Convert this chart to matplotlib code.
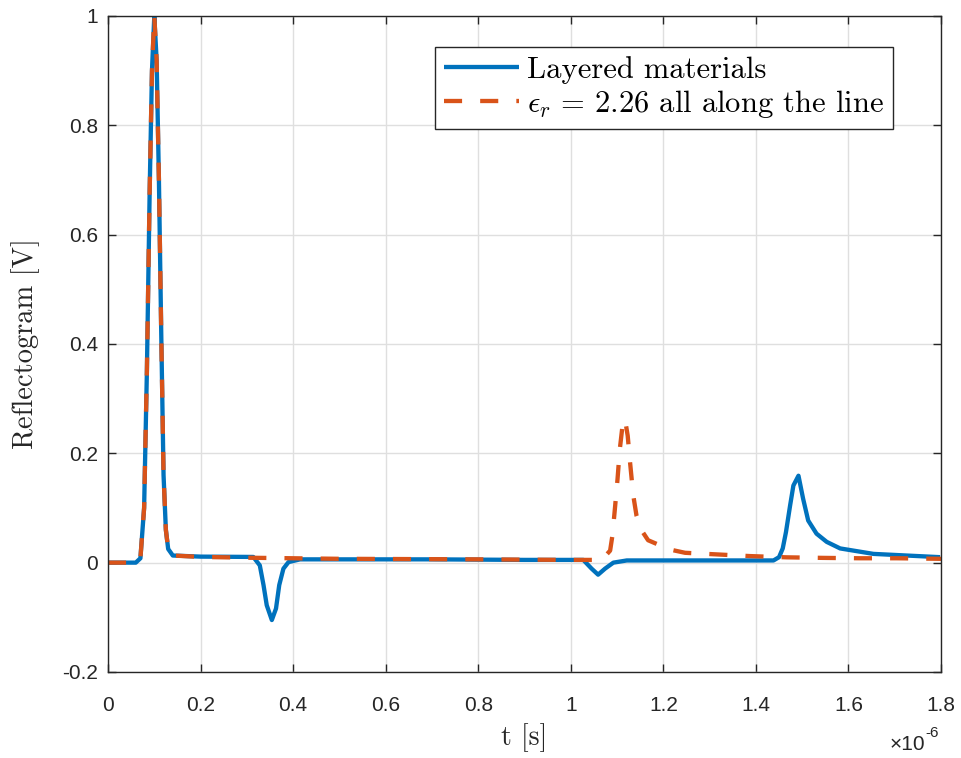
import numpy as np
import matplotlib.pyplot as plt

# time axis in units of 1e-6 s, values in V
t_layer = [0.0, 0.06, 0.07, 0.078, 0.084, 0.09, 0.095, 0.1, 0.105, 0.11, 0.115,
           0.12, 0.125, 0.13, 0.14, 0.2, 0.3, 0.314, 0.328, 0.336, 0.343, 0.354,
           0.363, 0.370, 0.379, 0.390, 0.415, 0.5, 0.7, 0.9, 1.0, 1.027, 1.045,
           1.059, 1.074, 1.092, 1.121, 1.2, 1.3, 1.438, 1.450, 1.458, 1.465, 1.474,
           1.481, 1.492, 1.502, 1.513, 1.531, 1.553, 1.582, 1.654, 1.726, 1.798]
v_layer = [0.0, 0.0, 0.008, 0.1, 0.35, 0.68, 0.9, 1.0, 0.92, 0.7, 0.42,
           0.16, 0.06, 0.025, 0.013, 0.011, 0.0105, 0.0104, -0.005, -0.041, -0.078, -0.105,
           -0.084, -0.041, -0.011, 0.001, 0.006, 0.006, 0.006, 0.005, 0.005, 0.005, -0.011,
           -0.022, -0.011, 0.0, 0.004, 0.004, 0.004, 0.004, 0.010, 0.026, 0.056, 0.105,
           0.141, 0.159, 0.117, 0.077, 0.053, 0.038, 0.026, 0.016, 0.013, 0.010]

t_uniform = [0.0, 0.06, 0.07, 0.078, 0.084, 0.09, 0.095, 0.1, 0.105, 0.11, 0.115,
             0.12, 0.125, 0.13, 0.14, 0.2, 0.3, 0.5, 0.8, 1.0, 1.067, 1.085, 1.090,
             1.096, 1.101, 1.106, 1.111, 1.117, 1.123, 1.128, 1.135, 1.142, 1.153,
             1.167, 1.214, 1.247, 1.387, 1.467, 1.545, 1.625, 1.705, 1.8]
v_uniform = [0.0, 0.0, 0.008, 0.1, 0.35, 0.68, 0.9, 1.0, 0.92, 0.7, 0.42,
             0.16, 0.06, 0.025, 0.013, 0.0105, 0.009, 0.007, 0.006, 0.005, 0.005, 0.022, 0.05,
             0.105, 0.153, 0.208, 0.245, 0.263, 0.232, 0.184, 0.123, 0.086, 0.059,
             0.041, 0.024, 0.018, 0.012, 0.0097, 0.0087, 0.008, 0.008, 0.007]

x_ticks = [0, 0.2, 0.4, 0.6, 0.8, 1.0, 1.2, 1.4, 1.6, 1.8]
x_labels = ['0', '0.2', '0.4', '0.6', '0.8', '1', '1.2', '1.4', '1.6', '1.8']
y_ticks = [-0.2, 0, 0.2, 0.4, 0.6, 0.8, 1.0]
y_labels = ['-0.2', '0', '0.2', '0.4', '0.6', '0.8', '1']

plt.rcParams['mathtext.fontset'] = 'cm'
plt.rcParams['axes.unicode_minus'] = False

fig = plt.figure(figsize=(9.61, 7.58), dpi=100)
ax = fig.add_axes([0.1124, 0.1135, 0.8668, 0.8654])

ax.plot(t_layer, v_layer, color='#0072BD', lw=3.1, label='Layered materials',
        solid_joinstyle='round', solid_capstyle='butt')
ax.plot(t_uniform, v_uniform, color='#D95319', lw=3.1, dashes=(4.2, 4.2),
        dash_capstyle='butt', label=r'$\epsilon_r\,=\,2.26$ all along the line')

ax.set_xlim(0, 1.8)
ax.set_ylim(-0.2, 1.0)
ax.set_xticks(x_ticks)
ax.set_xticklabels(x_labels)
ax.set_yticks(y_ticks)
ax.set_yticklabels(y_labels)

tick_font = 'Liberation Sans'
for lab in ax.get_xticklabels() + ax.get_yticklabels():
    lab.set_fontfamily(tick_font)
    lab.set_fontsize(15)
    lab.set_color('#262626')

ax.tick_params(direction='in', length=6, width=1, top=True, right=True,
               color='#262626')
ax.tick_params(axis='x', pad=17)
ax.tick_params(axis='y', pad=7)
for sp in ax.spines.values():
    sp.set_color('#262626')
    sp.set_linewidth(1)

ax.grid(True, color='#dfdfdf', lw=1)
ax.set_axisbelow(True)

ax.set_xlabel('t [s]', fontfamily='cmr10', fontsize=20, color='#262626', labelpad=6)
ax.set_ylabel('Reflectogram [V]', fontfamily='cmr10', fontsize=20.5, color='#262626', labelpad=16)

# exponent label as in the original
ax.text(0.981, -0.111, u'\u00d710', transform=ax.transAxes, ha='right', va='center',
        fontfamily=tick_font, fontsize=15, color='#262626')
ax.text(0.981, -0.093, '-6', transform=ax.transAxes, ha='left', va='center',
        fontfamily=tick_font, fontsize=11, color='#262626')

leg = ax.legend(loc='upper right', bbox_to_anchor=(0.942, 0.953), prop={'family': 'cmr10', 'size': 22},
                handlelength=2.45, handletextpad=0.26, borderpad=0.3, labelspacing=0.12,
                borderaxespad=0, fancybox=False, framealpha=1, edgecolor='#262626')
leg.get_frame().set_linewidth(1)

fig.savefig('out.png', dpi=100)
